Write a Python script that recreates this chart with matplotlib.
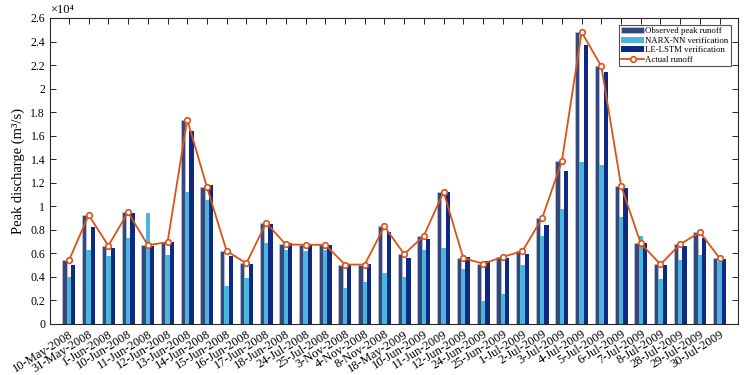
import numpy as np
import matplotlib
matplotlib.use('Agg')
import matplotlib.pyplot as plt
from matplotlib.ticker import FuncFormatter

plt.rcParams['font.family'] = ['Liberation Serif', 'DejaVu Serif']

dates = ['10-May-2008', '31-May-2008', '1-Jun-2008', '10-Jun-2008', '11-Jun-2008',
         '12-Jun-2008', '13-Jun-2008', '14-Jun-2008', '15-Jun-2008', '16-Jun-2008',
         '17-Jun-2008', '18-Jun-2008', '24-Jul-2008', '25-Jul-2008', '3-Nov-2008',
         '4-Nov-2008', '8-Nov-2008', '18-May-2009', '10-Jun-2009', '11-Jun-2009',
         '12-Jun-2009', '24-Jun-2009', '25-Jun-2009', '1-Jul-2009', '2-Jul-2009',
         '3-Jul-2009', '4-Jul-2009', '5-Jul-2009', '6-Jul-2009', '7-Jul-2009',
         '8-Jul-2009', '28-Jul-2009', '29-Jul-2009', '30-Jul-2009']

# peak discharge, units of 1e4 m3/s
observed = [0.54, 0.926, 0.665, 0.95, 0.67, 0.695, 1.737, 1.163, 0.62, 0.516,
            0.86, 0.676, 0.673, 0.673, 0.505, 0.505, 0.83, 0.593, 0.75, 1.123,
            0.56, 0.513, 0.57, 0.62, 0.90, 1.386, 2.48, 2.19, 1.175, 0.684,
            0.507, 0.678, 0.78, 0.559]
narx = [0.40, 0.63, 0.58, 0.73, 0.945, 0.585, 1.12, 1.05, 0.325, 0.39,
        0.69, 0.627, 0.62, 0.63, 0.308, 0.36, 0.43, 0.40, 0.63, 0.65,
        0.47, 0.194, 0.257, 0.50, 0.744, 0.975, 1.375, 1.354, 0.913, 0.75,
        0.385, 0.54, 0.584, 0.53]
lstm = [0.50, 0.82, 0.65, 0.94, 0.66, 0.70, 1.64, 1.18, 0.58, 0.51,
        0.85, 0.684, 0.67, 0.67, 0.50, 0.507, 0.784, 0.56, 0.72, 1.123,
        0.567, 0.536, 0.562, 0.596, 0.84, 1.303, 2.367, 2.139, 1.157, 0.69,
        0.503, 0.659, 0.727, 0.553]
actual = observed

x = np.arange(1, len(dates) + 1)
w = 0.22

fig = plt.figure(figsize=(7.46, 3.75), dpi=100)
ax = fig.add_axes([0.067, 0.136, 0.922, 0.816])

b1 = ax.bar(x - w, observed, w, color='#34497a', edgecolor='#c9c9e6', linewidth=0.4,
            label='Observed peak runoff', zorder=2)
b2 = ax.bar(x, narx, w, color='#4ab5dd', label='NARX-NN verification', zorder=2)
b3 = ax.bar(x + w, lstm, w, color='#0c2a84', label='LE-LSTM verification', zorder=2)
l1, = ax.plot(x, actual, '-o', color='#d95319', lw=1.3, ms=4, mfc='white', mec='#d95319',
              mew=1.2, label='Actual runoff', zorder=3)

ax.set_xlim(0.04, 34.92)
ax.set_ylim(0, 2.6)
ax.set_yticks(np.arange(0, 2.61, 0.2))
ax.yaxis.set_major_formatter(FuncFormatter(lambda v, p: '%g' % round(v, 1)))
ax.set_xticks(x)
ax.set_xticklabels(dates, rotation=32, ha='right', rotation_mode='anchor', fontsize=9)
ax.tick_params(axis='both', direction='in', top=True, right=True, length=4,
               width=0.7, color='#262626')
ax.tick_params(axis='y', labelsize=8.5)
ax.tick_params(axis='x', pad=3)
for s in ax.spines.values():
    s.set_linewidth(0.8)
    s.set_color('#262626')

ax.set_ylabel('Peak discharge (m³/s)', fontsize=10.5)
ax.text(0, 1.005, '×10⁴', transform=ax.transAxes, fontsize=9, va='bottom', ha='left')

leg = ax.legend([b1, b2, b3, l1],
                ['Observed peak runoff', 'NARX-NN verification', 'LE-LSTM verification',
                 'Actual runoff'],
                loc='upper right', fontsize=6.3, frameon=True, fancybox=False,
                borderpad=0.25, labelspacing=0.15, handlelength=2.6, handletextpad=0.15,
                borderaxespad=0.8)
leg.get_frame().set_edgecolor('#262626')
leg.get_frame().set_linewidth(0.8)

fig.savefig('out.png', dpi=100)
